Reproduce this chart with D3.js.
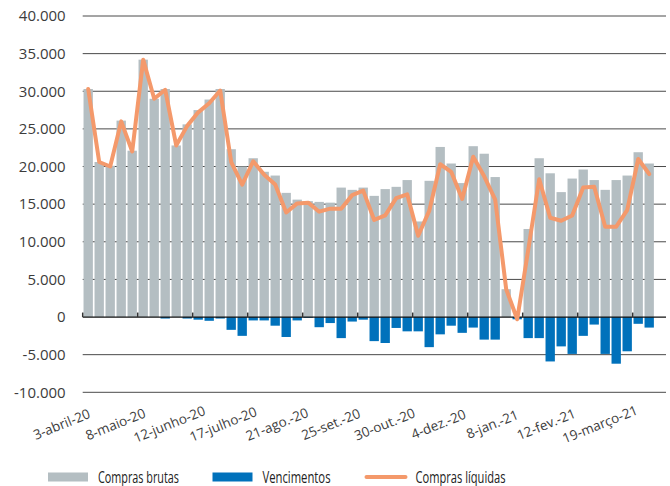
<!DOCTYPE html>
<html>
<head>
<meta charset="utf-8">
<script src="https://cdn.jsdelivr.net/npm/d3@7"></script>
<style>
  body { margin: 0; background: #fff; }
  svg { display: block; font-family: 'Open Sans', sans-serif; }
</style>
</head>
<body>
<svg id="chart" width="670" height="486"></svg>
<script>
'use strict'

// weekly auctions, values in R$ million (thousands separator '.')
var weeks = d3.timeDay.range(new Date(2020, 3, 3), new Date(2021, 2, 27), 7)

var grossBuys = [
  30300, 20600, 20100, 26100, 22100, 34200, 29000, 30300, 22800, 25600,
  27500, 28900, 30300, 22300, 20000, 21100, 19300, 18800, 16500, 15600,
  15400, 15300, 15200, 17200, 16900, 17200, 16100, 17000, 17300, 18200,
  12700, 18100, 22600, 20400, 17800, 22700, 21700, 18600, 3700, 0,
  11700, 21100, 19100, 16600, 18400, 19600, 18200, 16900, 18200, 18800,
  21900, 20400
]

var maturities = [
  0, 0, 0, 0, 0, 0, 0, -200, 0, -200,
  -350, -500, -200, -1700, -2500, -450, -450, -1150, -2650, -450,
  -100, -1350, -800, -2800, -600, -350, -3200, -3450, -1450, -1900,
  -1900, -4000, -2300, -1150, -2100, -1400, -3000, -3000, 0, -300,
  -2800, -2800, -5900, -3900, -4900, -2500, -1000, -4900, -6200, -4550,
  -900, -1400
]

var netBuys = [
  30300, 20600, 20000, 26000, 22000, 34200, 29000, 30200, 22800, 25400,
  27200, 28400, 30100, 20600, 17600, 20700, 18900, 17600, 13900, 15100,
  15200, 14000, 14400, 14400, 16200, 16800, 12900, 13500, 15800, 16300,
  10800, 14100, 20300, 19300, 15700, 21300, 18700, 15600, 3700, -300,
  8900, 18300, 13200, 12800, 13500, 17200, 17300, 12000, 12000, 14200,
  21000, 19000
]

var tickLabels = [
  '3-abril-20', '8-maio-20', '12-junho-20', '17-julho-20', '21-ago.-20',
  '25-set.-20', '30-out.-20', '4-dez.-20', '8-jan.-21', '12-fev.-21',
  '19-março-21'
]

var yTicks = [-10000, -5000, 0, 5000, 10000, 15000, 20000, 25000, 30000, 35000, 40000]

var legendItems = [
  { name: 'Compras brutas', kind: 'bar', color: '#b4bec2', len: 81 }
  , { name: 'Vencimentos', kind: 'bar', color: '#0071bb', len: 68 }
  , { name: 'Compras líquidas', kind: 'line', color: '#f4996b', len: 90 }
]

;(function() {
  var plotLeft = 82.7
    , plotRight = 666
    , plotTop = 16
    , plotBottom = 392.3

  var fmt = d3.formatLocale({
    decimal: ',', thousands: '.', grouping: [3], currency: ['', ''], minus: '-'
  }).format(',.0f')

  var svg = d3.select('#chart')

  var x = d3.scaleBand()
    .domain(weeks)
    .range([plotLeft, plotLeft + weeks.length * 11])
    .paddingInner(0.15)
    .paddingOuter(0.075)

  var y = d3.scaleLinear()
    .domain([-10000, 40000])
    .range([plotBottom, plotTop])

  // rotated labels are laid out on their own, slightly tighter, row
  var xl = d3.scalePoint()
    .domain(tickLabels)
    .range([61.7, 600])

  var xc = function(d) { return x(d) + x.bandwidth() / 2 }
  var bandStart = function(d) { return x(d) - x.step() * 0.075 }

  // grid
  svg.append('g').selectAll('line')
    .data(yTicks.filter(function(t) { return t !== 0 }))
    .enter().append('line')
    .attr('x1', plotLeft).attr('x2', plotRight)
    .attr('y1', function(d) { return y(d) }).attr('y2', function(d) { return y(d) })
    .attr('stroke', '#4a4a4a')
    .attr('stroke-width', 1)

  // y labels
  var yAxis = svg.append('g')
    .attr('transform', 'translate(' + [plotLeft, 0] + ')')
    .call(d3.axisLeft(y).tickValues(yTicks).tickFormat(fmt).tickSize(0).tickPadding(17))
  yAxis.select('.domain').remove()
  yAxis.selectAll('text')
    .attr('font-size', 15)
    .attr('fill', '#3c3c3c')
    .attr('font-family', "'Open Sans', sans-serif")

  // bars
  svg.append('g').selectAll('rect')
    .data(zip(weeks, grossBuys))
    .enter().append('rect')
    .attr('x', function(d) { return x(d[0]) })
    .attr('width', x.bandwidth())
    .attr('y', function(d) { return y(d[1]) })
    .attr('height', function(d) { return y(0) - y(d[1]) })
    .attr('fill', legendItems[0].color)

  svg.append('g').selectAll('rect')
    .data(zip(weeks, maturities))
    .enter().append('rect')
    .attr('x', function(d) { return x(d[0]) })
    .attr('width', x.bandwidth())
    .attr('y', y(0))
    .attr('height', function(d) { return y(d[1]) - y(0) })
    .attr('fill', legendItems[1].color)

  // zero axis + inner ticks
  svg.append('line')
    .attr('x1', plotLeft).attr('x2', plotRight)
    .attr('y1', y(0)).attr('y2', y(0))
    .attr('stroke', '#111')
    .attr('stroke-width', 1.3)

  var labelled = weeks.filter(function(d, i) { return i % 5 === 0 })

  svg.append('g').selectAll('line')
    .data(labelled)
    .enter().append('line')
    .attr('x1', bandStart).attr('x2', bandStart)
    .attr('y1', y(0)).attr('y2', y(0) - 4.5)
    .attr('stroke', '#333')
    .attr('stroke-width', 1.5)

  // x labels, sitting under the plot
  svg.append('g').selectAll('text')
    .data(tickLabels)
    .enter().append('text')
    .attr('transform', function(d) {
      return 'translate(' + [xl(d), plotBottom + 32] + ') rotate(-22)'
    })
    .attr('text-anchor', 'middle')
    .attr('dy', '0.35em')
    .attr('font-size', 13.5)
    .attr('fill', '#3c3c3c')
    .text(function(d) { return d })

  // net purchases
  var line = d3.line()
    .x(function(d) { return xc(d[0]) })
    .y(function(d) { return y(d[1]) })

  svg.append('path')
    .datum(zip(weeks, netBuys))
    .attr('d', line)
    .attr('fill', 'none')
    .attr('stroke', legendItems[2].color)
    .attr('stroke-width', 4)
    .attr('stroke-linejoin', 'round')
    .attr('stroke-linecap', 'round')

  // legend
  var lg = svg.append('g').attr('transform', 'translate(0, 477)')
  var slots = [48, 212.5, 364.5]
  var item = lg.selectAll('g').data(legendItems).enter().append('g')
    .attr('transform', function(d, i) { return 'translate(' + [slots[i], 0] + ')' })

  item.filter(function(d) { return d.kind === 'bar' }).append('rect')
    .attr('x', 0).attr('y', -4.5).attr('width', 40).attr('height', 9)
    .attr('fill', function(d) { return d.color })

  item.filter(function(d) { return d.kind === 'line' }).append('line')
    .attr('x1', 2).attr('x2', 41).attr('y1', 0).attr('y2', 0)
    .attr('stroke', function(d) { return d.color })
    .attr('stroke-width', 4)
    .attr('stroke-linecap', 'round')

  item.append('text')
    .attr('x', function(d) { return d.kind === 'line' ? 51 : 50 })
    .attr('y', 5.5)
    .attr('font-size', 16)
    .attr('fill', '#222')
    .attr('textLength', function(d) { return d.len })
    .attr('lengthAdjust', 'spacingAndGlyphs')
    .text(function(d) { return d.name })
})()

function zip(a, b) {
  return a.map(function(v, i) { return [v, b[i]] })
}
</script>
</body>
</html>
